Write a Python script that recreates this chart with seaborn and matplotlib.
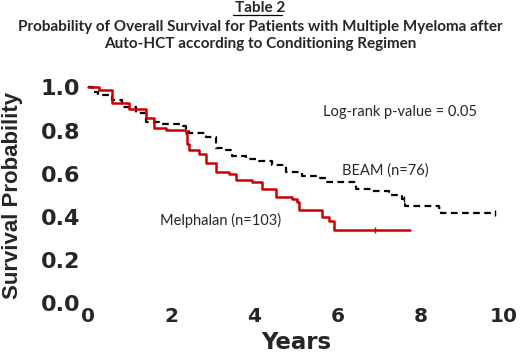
import numpy as np
import pandas as pd
import seaborn as sns
import matplotlib.pyplot as plt

sns.set_style("white")

# Kaplan-Meier steps (years, survival)
melph_t = [0.0, 0.26, 0.58, 0.99, 1.39, 1.59, 1.88, 2.36, 2.38, 2.43, 2.67, 2.84, 3.08,
           3.39, 3.56, 3.94, 4.18, 4.52, 4.90, 5.02, 5.07, 5.55, 5.63, 5.79, 5.91, 7.76]
melph_s = [1.00, 0.99, 0.93, 0.90, 0.86, 0.81, 0.805, 0.79, 0.74, 0.71, 0.69, 0.65, 0.61,
           0.60, 0.57, 0.56, 0.53, 0.49, 0.485, 0.47, 0.43, 0.43, 0.40, 0.38, 0.34, 0.34]

beam_t = [0.0, 0.10, 0.22, 0.58, 0.82, 1.15, 1.39, 1.71, 2.19, 2.36, 2.43, 2.67, 2.84, 3.08,
          3.32, 3.46, 3.80, 4.11, 4.42, 4.76, 5.14, 5.55, 5.72, 6.20, 6.44, 6.83, 7.24,
          7.55, 7.64, 8.44, 8.49, 9.83]
beam_s = [1.00, 0.98, 0.965, 0.94, 0.91, 0.88, 0.84, 0.83, 0.82, 0.805, 0.79, 0.79, 0.77, 0.72,
          0.71, 0.68, 0.67, 0.66, 0.64, 0.61, 0.59, 0.58, 0.56, 0.56, 0.53, 0.52, 0.50,
          0.485, 0.45, 0.44, 0.42, 0.42]

# censor ticks
melph_cens_t = [6.9]
melph_cens_s = [0.34]
beam_cens_t = [7.6, 9.8]
beam_cens_s = [0.485, 0.42]

xticks = [0, 2, 4, 6, 8, 10]
yticks = [0.0, 0.2, 0.4, 0.6, 0.8, 1.0]

fig = plt.figure(figsize=(5.2, 3.57), dpi=100)
ax = fig.add_axes([0.170, 0.151, 0.798, 0.604])

sns.lineplot(x=beam_t, y=beam_s, ax=ax, drawstyle='steps-post', color='black',
             linewidth=1.6, linestyle=(0, (3, 2)), clip_on=False)
sns.lineplot(x=melph_t, y=melph_s, ax=ax, drawstyle='steps-post', color='#cc0000',
             linewidth=1.8, clip_on=False)
ax.plot(beam_cens_t, beam_cens_s, '|', color='black', markersize=4, clip_on=False)
ax.plot(melph_cens_t, melph_cens_s, '|', color='#cc0000', markersize=4, clip_on=False)

ax.set_xlim(0, 10)
ax.set_ylim(0, 1.0)
ax.set_xticks(xticks)
ax.set_yticks(yticks)
ax.set_xticklabels([str(v) for v in xticks], fontsize=14.5, fontweight='bold', family='DejaVu Sans')
ax.set_yticklabels(['%.1f' % v for v in yticks], fontsize=16, fontweight='bold', family='DejaVu Sans')
ax.tick_params(axis='x', length=0, pad=3)
ax.tick_params(axis='y', length=0, pad=6)
for s in ax.spines.values():
    s.set_visible(False)

ax.set_xlabel('Years', fontsize=16.5, fontweight='bold', family='DejaVu Sans')
ax.xaxis.set_label_coords(0.5, -0.128)
ax.set_ylabel('Survival Probability', fontsize=16, fontweight='bold', family='Liberation Sans')
ax.yaxis.set_label_coords(-0.158, 0.5)

ax.text(7.5, 0.888, 'Log-rank p-value = 0.05', fontsize=10.5, family='Lato',
        ha='center', va='center')
ax.text(6.11, 0.615, 'BEAM (n=76)', fontsize=10.5, family='Lato', ha='left', va='center')
ax.text(1.72, 0.384, 'Melphalan (n=103)', fontsize=10.5, family='Lato', ha='left', va='center')

# title block
fig.text(0.5, 1 - 8 / 357, 'Table 2', fontsize=11, fontweight='bold', family='Lato',
         ha='center', va='center')
fig.text(0.5, 1 - 27 / 357, 'Probability of Overall Survival for Patients with Multiple Myeloma after',
         fontsize=11, fontweight='bold', family='Lato', ha='center', va='center')
fig.text(0.5, 1 - 44 / 357, 'Auto-HCT according to Conditioning Regimen',
         fontsize=11, fontweight='bold', family='Lato', ha='center', va='center')
# underline for "Table 2"
fig.add_artist(plt.Line2D([233 / 520, 282 / 520], [1 - 15 / 357] * 2, color='black', linewidth=0.9))

fig.savefig('out.png', dpi=100)
